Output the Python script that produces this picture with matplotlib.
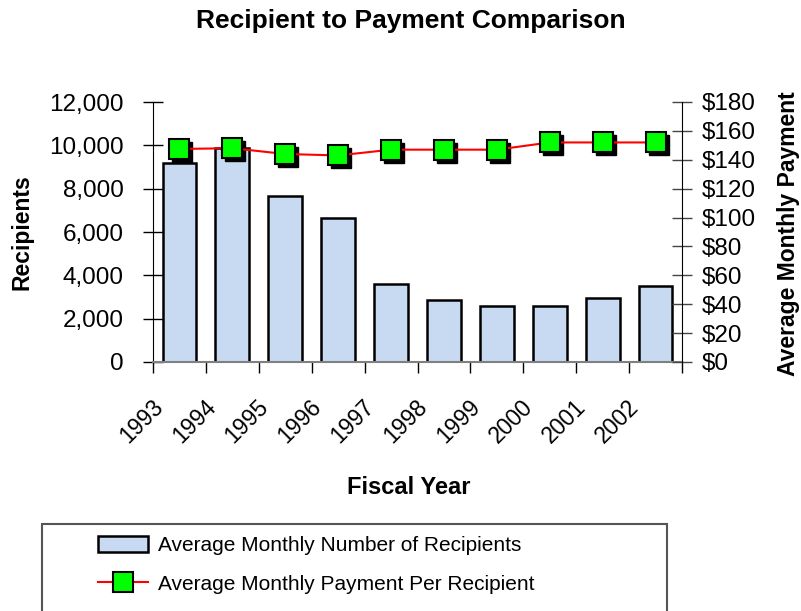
import matplotlib.pyplot as plt
import matplotlib.transforms as mtransforms
from matplotlib.patches import Rectangle
import numpy as np

plt.rcParams['font.family'] = ['Liberation Sans', 'DejaVu Sans']

years = ['1993', '1994', '1995', '1996', '1997', '1998', '1999', '2000', '2001', '2002']
recipients = [9180, 9880, 7650, 6650, 3600, 2860, 2580, 2580, 2950, 3500]
payment = [147.5, 148, 144, 143, 147, 147, 147, 152, 152, 152]

W, H = 801, 611
fig = plt.figure(figsize=(W / 100, H / 100), dpi=100)
ax = fig.add_axes([153 / W, (H - 362) / H, 529 / W, 260 / H])
ax2 = ax.twinx()

x = np.arange(len(years))
ax.bar(x, recipients, width=0.64, color='#c8daf2', edgecolor='black', linewidth=1.8,
       label='Average Monthly Number of Recipients', zorder=2)

# shadow behind the markers
shadow = mtransforms.offset_copy(ax2.transData, fig=fig, x=3, y=-3, units='dots')
ax2.plot(x, payment, 's', color='black', markersize=14.5, transform=shadow, zorder=3)
ax2.plot(x, payment, '-s', color='red', linewidth=1.5, markerfacecolor='#00ff00',
         markeredgecolor='black', markeredgewidth=1.5, markersize=14.5,
         label='Average Monthly Payment Per Recipient', zorder=4)

ax.set_xlim(-0.5, len(years) - 0.5)
ax.set_ylim(0, 12000)
ax2.set_ylim(0, 180)
ax.set_yticks(np.arange(0, 12001, 2000))
ax.set_yticklabels([f'{v:,}' for v in range(0, 12001, 2000)])
ax2.set_yticks(np.arange(0, 181, 20))
ax2.set_yticklabels([f'${v}' for v in range(0, 181, 20)])

ax.set_xticks(np.arange(-0.5, len(years), 1.0))
ax.set_xticklabels([])
ax.set_xticks(x, minor=True)
ax.set_xticklabels(years, minor=True, rotation=45, ha='right', fontsize=16.5)
ax.tick_params(axis='x', which='major', direction='out', length=8, width=1)
ax.tick_params(axis='x', which='minor', length=0, pad=24)
shift = mtransforms.ScaledTranslation(-12 / 100, 0, fig.dpi_scale_trans)
for lab in ax.get_xticklabels(minor=True):
    lab.set_transform(lab.get_transform() + shift)

ax.tick_params(axis='y', direction='inout', length=14, width=1, labelsize=17.5, pad=14)
ax2.tick_params(axis='y', direction='inout', length=14, width=1, labelsize=17.5, pad=7,
                color='#444444')

for a in (ax, ax2):
    a.spines['top'].set_visible(False)
ax.spines['right'].set_visible(False)
ax.spines['bottom'].set_color('#808080')
ax.spines['bottom'].set_linewidth(1.5)
ax2.spines['bottom'].set_visible(False)
ax2.spines['left'].set_visible(False)
ax.set_zorder(ax2.get_zorder() - 1)
ax2.patch.set_visible(False)

fig.text(411 / W, 1 - 21 / H, 'Recipient to Payment Comparison', ha='center', va='center',
         fontsize=19, fontweight='bold')
fig.text(22 / W, 1 - 232 / H, 'Recipients', rotation=90, ha='center', va='center',
         fontsize=16.5, fontweight='bold')
fig.text(789 / W, 1 - 234 / H, 'Average Monthly Payment', rotation=90, ha='center',
         va='center', fontsize=16.5, fontweight='bold')
fig.text(409 / W, 1 - 488 / H, 'Fiscal Year', ha='center', va='center',
         fontsize=17, fontweight='bold')

fig.patches.append(Rectangle((42 / W, -0.1), (667 - 42) / W, 0.1 + (H - 524) / H,
                             transform=fig.transFigure, fill=False, edgecolor='#555555',
                             linewidth=1.5))
h1, l1 = ax.get_legend_handles_labels()
h2, l2 = ax2.get_legend_handles_labels()
fig.legend(h1 + h2, l1 + l2, loc='upper left',
           bbox_to_anchor=(79 / W, 1 - 517 / H), frameon=False, fontsize=15,
           handlelength=2.4, handleheight=0.8, labelspacing=0.95, handletextpad=0.48)

fig.savefig('out.png', dpi=100)
